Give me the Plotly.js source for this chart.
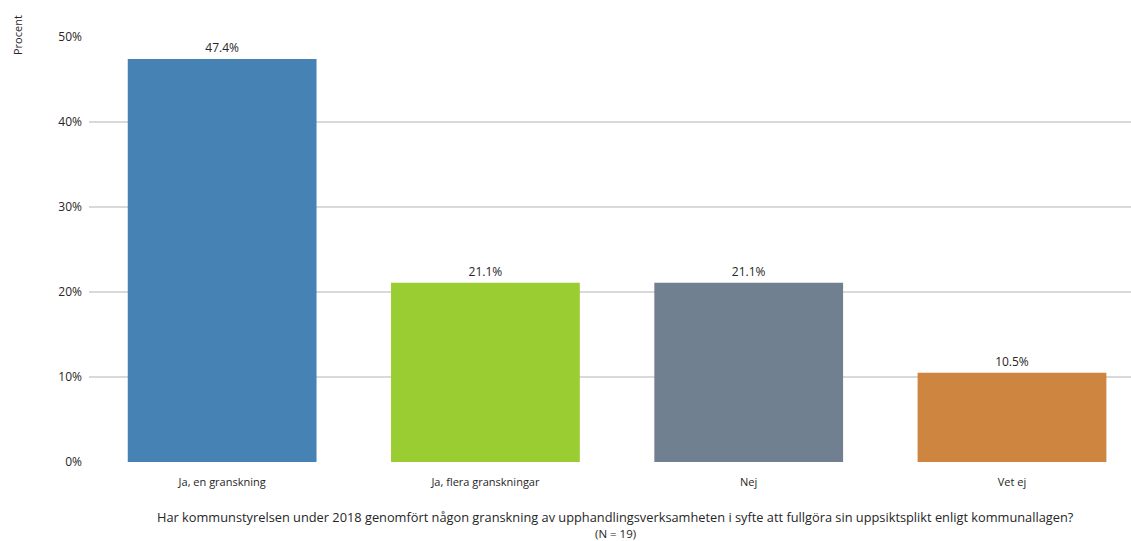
<!DOCTYPE html>
<html><head><meta charset="utf-8">
<script src="https://cdn.plot.ly/plotly-3.0.1.min.js"></script>
<style>body{margin:0;padding:0;background:#fff}#chart{width:1131px;height:541px}</style>
</head><body><div id="chart"></div>
<script>
const categories = ["Ja, en granskning", "Ja, flera granskningar", "Nej", "Vet ej"];
const values = [0.474, 0.211, 0.211, 0.105];
const labels = ["47.4%", "21.1%", "21.1%", "10.5%"];
const colors = ["#4682b4", "#9acd32", "#708090", "#cd853f"];
const yTicks = [0, 0.1, 0.2, 0.3, 0.4, 0.5];
const yTickText = ["0%", "10%", "20%", "30%", "40%", "50%"];
const xTitle = "Har kommunstyrelsen under 2018 genomfört någon granskning av upphandlingsverksamheten i syfte att fullgöra sin uppsiktsplikt enligt kommunallagen?";
const nText = "(N = 19)";

const font = "'Open Sans', sans-serif";
const tc = "#262626";
const trace = {
  type: "bar",
  x: categories.map((c, i) => i),
  y: values,
  text: labels,
  textposition: "outside",
  cliponaxis: false,
  textfont: {family: font, size: 12, color: tc},
  marker: {color: colors},
  hoverinfo: "skip"
};
const layout = {
  width: 1131, height: 541,
  margin: {l: 89, r: 0, t: 37, b: 79},
  paper_bgcolor: "#fff", plot_bgcolor: "#fff",
  font: {family: font, size: 12, color: tc},
  bargap: 0.283,
  showlegend: false,
  xaxis: {
    range: [-0.5057, 3.452],
    tickvals: [0, 1, 2, 3], ticktext: categories,
    showgrid: false, zeroline: false, showline: false,
    ticks: "", ticklabelstandoff: 12,
    tickfont: {family: font, size: 11, color: tc}
  },
  yaxis: {
    range: [0, 0.5],
    tickvals: yTicks, ticktext: yTickText,
    showgrid: true, gridcolor: "#d9d9d9", gridwidth: 1.5,
    zeroline: false, showline: false, ticks: "",
    ticklabelstandoff: 6,
    tickfont: {family: font, size: 12, color: tc}
  },
  annotations: [
    {text: "Procent", xref: "paper", yref: "paper", x: 0, y: 1.0, xanchor: "center", yanchor: "middle",
     xshift: 17 - 89, yshift: 2, textangle: -90, showarrow: false, font: {family: font, size: 11, color: tc}},
    {text: xTitle, xref: "paper", yref: "paper", x: 0, y: 0, xanchor: "center", yanchor: "middle",
     xshift: 615 - 89, yshift: -55, showarrow: false, font: {family: font, size: 12.8, color: tc}},
    {text: nText, xref: "paper", yref: "paper", x: 0, y: 0, xanchor: "center", yanchor: "middle",
     xshift: 615 - 89, yshift: -71, showarrow: false, font: {family: font, size: 11.5, color: tc}}
  ]
};
Plotly.newPlot("chart", [trace], layout, {displayModeBar: false, staticPlot: true});
</script></body></html>
